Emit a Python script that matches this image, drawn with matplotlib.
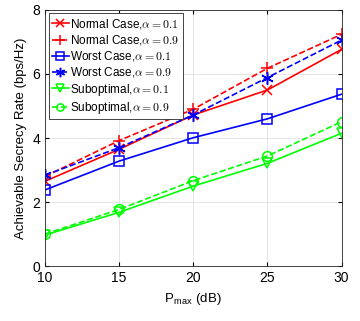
import matplotlib
matplotlib.use("Agg")
import matplotlib.pyplot as plt

plt.rcParams['font.family'] = ['Liberation Sans', 'DejaVu Sans']
plt.rcParams['mathtext.fontset'] = 'cm'

pmax = [10, 15, 20, 25, 30]
normal_01 = [2.65, 3.65, 4.72, 5.50, 6.77]
normal_09 = [2.80, 3.92, 4.90, 6.18, 7.24]
worst_01 = [2.38, 3.28, 4.01, 4.60, 5.37]
worst_09 = [2.84, 3.70, 4.72, 5.89, 7.06]
subopt_01 = [0.97, 1.68, 2.50, 3.21, 4.15]
subopt_09 = [1.00, 1.77, 2.67, 3.44, 4.51]

fig = plt.figure(figsize=(3.6, 3.21), dpi=100)
ax = fig.add_axes([0.125, 0.171, 0.824, 0.798])

ax.plot(pmax, normal_01, color='#ff0000', ls='-', marker='x', ms=7, mew=1.1, lw=1.2,
        label=r'Normal Case,$\alpha{=}0.1$')
ax.plot(pmax, normal_09, color='#ff0000', ls='--', marker='+', ms=9, mew=1.1, lw=1.2,
        label=r'Normal Case,$\alpha{=}0.9$')
ax.plot(pmax, worst_01, color='#0000ff', ls='-', marker='s', ms=7, mfc='none', mew=1.1, lw=1.2,
        label=r'Worst Case,$\alpha{=}0.1$')
ax.plot(pmax, worst_09, color='#0000ff', ls='--', marker=(6, 2, 0), ms=9, mew=1.1, lw=1.2,
        label=r'Worst Case,$\alpha{=}0.9$')
ax.plot(pmax, subopt_01, color='#00ff00', ls='-', marker='v', ms=7, mfc='none', mew=1.1, lw=1.2,
        label=r'Suboptimal,$\alpha{=}0.1$')
ax.plot(pmax, subopt_09, color='#00ff00', ls='--', marker='o', ms=7, mfc='none', mew=1.1, lw=1.2,
        label=r'Suboptimal,$\alpha{=}0.9$')

ax.set_xlim(10, 30)
ax.set_ylim(0, 8)
ax.set_xticks([10, 15, 20, 25, 30])
ax.set_yticks([0, 2, 4, 6, 8])
ax.tick_params(direction='in', labelsize=10, length=3, top=True, right=True)
ax.grid(True, color='#e0e0e0', lw=0.6)
for s in ax.spines.values():
    s.set_color('#262626')
    s.set_linewidth(0.6)

ax.set_xlabel(r'P$_{\mathregular{max}}$ (dB)', fontsize=9.5)
ax.set_ylabel('Achievable Secrecy Rate (bps/Hz)', fontsize=9.5)

leg = ax.legend(loc='upper left', fontsize=8.5, handlelength=1.4, handletextpad=0.1,
                labelspacing=0.18, borderpad=0.3, fancybox=False, framealpha=1,
                edgecolor='#262626', borderaxespad=0.3, markerscale=0.75)
leg.get_frame().set_linewidth(0.6)

fig.savefig('out.png', dpi=100)
